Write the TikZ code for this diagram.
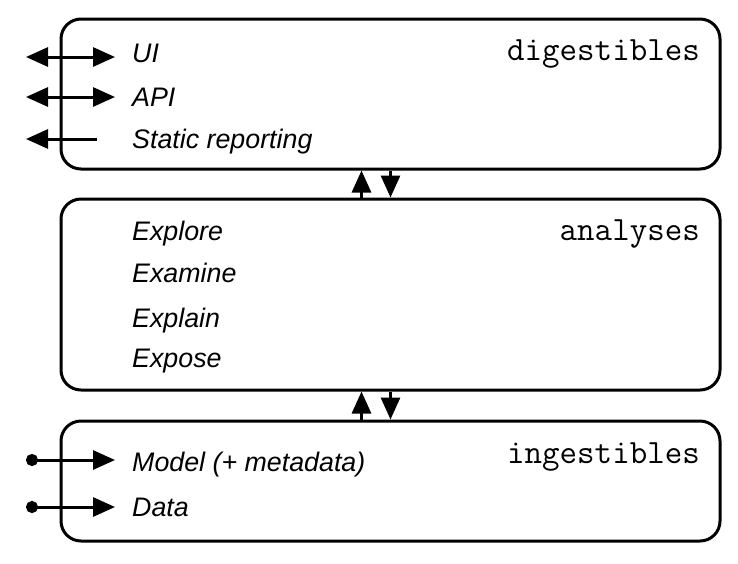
\documentclass[tikz,border=0pt]{standalone}
\usepackage{fontspec}
\setmainfont{Liberation Sans}
\usetikzlibrary{arrows.meta,calc}

\begin{document}
\begin{tikzpicture}[x=1pt,y=-1pt,
		layer/.style={draw,line width=3pt,rounded corners=20pt,minimum width=659pt,inner sep=0pt},
		item/.style={anchor=base west,inner sep=0pt,font=\fontsize{26.8}{32}\selectfont\itshape},
		tag/.style={anchor=base east,inner sep=0pt,font=\fontsize{34}{38}\selectfont\ttfamily},
		tip/.tip={Triangle[length=22pt,width=19pt]},
		vect/.style={line width=3pt,-tip},
		both/.style={line width=3pt,tip-tip},
		feed/.style={line width=3pt,{Circle[length=12pt]}-tip}]
		\useasboundingbox (0,0) rectangle (738,563);% size of the reference

		% the three layers
		\node[layer,minimum height=150pt] (digest) at (390.5,94) {};
		\node[layer,minimum height=191pt] (analyse) at (390.5,294.5) {};
		\node[layer,minimum height=120pt] (ingest) at (390.5,481) {};

		\node[tag] at (700,60) {digestibles};
		\node[tag] at (700,240) {analyses};
		\node[tag] at (700,463) {ingestibles};

		% digestibles
		\node[item] (ui) at (132,62) {UI};
		\node[item] (api) at (132,106) {API};
		\node[item] (static) at (132,148) {Static reporting};
		\coordinate (ui-out) at (26,57);
		\coordinate (api-out) at (26,97);
		\coordinate (static-out) at (26,139);
		\draw[both] (ui-out) -- (ui-out -| 115,0);
		\draw[both] (api-out) -- (api-out -| 115,0);
		\draw[vect] (static-out -| 97,0) -- (static-out);

		% analyses
		\node[item] (explore) at (132,240) {Explore};
		\node[item] (examine) at (132,282) {Examine};
		\node[item] (explain) at (132,327) {Explain};
		\node[item] (expose) at (132,367) {Expose};

		% ingestibles
		\node[item] (model) at (132,471) {Model (+ metadata)};
		\node[item] (data) at (132,516) {Data};
		\coordinate (model-in) at (26,460);
		\coordinate (data-in) at (26,507);
		\draw[feed] (model-in) -- (model-in -| 115,0);
		\draw[feed] (data-in) -- (data-in -| 115,0);

		% between the layers
		\draw[vect] ([xshift=-29pt]analyse.north) -- ([xshift=-29pt]digest.south);
		\draw[vect] (digest.south) -- (analyse.north);
		\draw[vect] ([xshift=-29pt]ingest.north) -- ([xshift=-29pt]analyse.south);
		\draw[vect] (analyse.south) -- (ingest.north);
\end{tikzpicture}
\end{document}
